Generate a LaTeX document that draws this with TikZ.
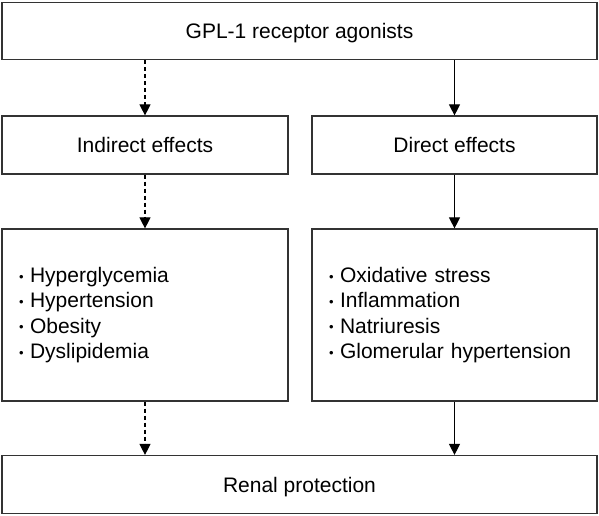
\documentclass[tikz,border=0pt]{standalone}
\usepackage{fontspec}
\setmainfont{Liberation Sans}
\usetikzlibrary{arrows.meta}

\newcommand{\itemdot}{\raisebox{1.2pt}{\fontsize{13}{10}\selectfont •}\hspace{6.5pt}}

\begin{document}
\begin{tikzpicture}[x=1pt, y=-1pt,
    box/.style={draw=black!80, line width=1.2pt, fill=white, inner sep=0pt,
        text height=15.2pt, text depth=0pt,
        font=\fontsize{21}{25.3}\selectfont},
    listbox/.style={box, align=left, inner xsep=17pt, text width=252pt, minimum height=172pt,
        text height={}, text depth={}},
    link/.style={line width=1.1pt, -{Triangle[width=11pt,length=11pt]}}
]
    \useasboundingbox (0,0) rectangle (599,515);

    \node [box, minimum width=595pt, minimum height=57pt] (agon) at (299.5,31) {GPL-1 receptor agonists};
    \node [box, minimum width=286pt, minimum height=58pt] (ind) at (145,145) {Indirect effects};
    \node [box, minimum width=285pt, minimum height=58pt] (dir) at (454.5,145) {Direct effects};

    \node [listbox] (indlist) at (145,315)
        {\itemdot Hyperglycemia\\ \itemdot Hypertension\\ \itemdot Obesity\\ \itemdot Dyslipidemia};
    \node [listbox, text width=251pt] (dirlist) at (454.5,315)
        {\itemdot Oxidative stress\\ \itemdot Inflammation\\ \itemdot Natriuresis\\ \itemdot Glomerular hypertension};

    \node [box, minimum width=595pt, minimum height=58pt] (renal) at (299.5,484.5) {Renal protection};

    \draw [link, dash pattern=on 4pt off 3pt] (agon.south -| ind) -- (ind.north);
    \draw [link] (agon.south -| dir) -- (dir.north);
    \draw [link, dash pattern=on 4pt off 3pt] (ind.south) -- (indlist.north);
    \draw [link] (dir.south) -- (dirlist.north);
    \draw [link, dash pattern=on 4pt off 3pt] (indlist.south) -- (renal.north -| indlist);
    \draw [link] (dirlist.south) -- (renal.north -| dirlist);

\end{tikzpicture}
\end{document}
